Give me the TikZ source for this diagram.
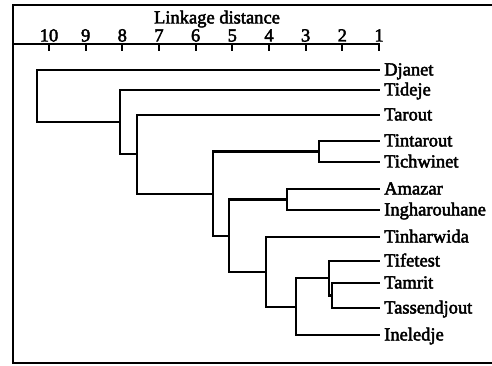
\documentclass[tikz,border=0pt]{standalone}
\usepackage{fontspec}
\setmainfont{Liberation Serif}
\newfontfamily\heavyserif{Liberation Serif}[FakeBold=2.5]
\begin{document}
\begin{tikzpicture}[x=1pt,y=-1pt,
  tree/.style={line width=2.2pt,line cap=rect},
  frame/.style={line width=2pt},
  leaf/.style={anchor=base west,inner sep=0pt,font=\heavyserif\fontsize{18.5}{20}\selectfont},
  num/.style={anchor=base,inner sep=0pt,font=\heavyserif\fontsize{18.5}{20}\selectfont},
  tickmark/.style={line width=2pt}]
\useasboundingbox (0,0) rectangle (492,366);
% frame
\coordinate (ftr) at (492,5);
\coordinate (ftl) at (13,5);
\coordinate (fbl) at (13,363);
\coordinate (fbr) at (492,363);
\draw[frame] (ftr) -- (ftl) -- (fbl) -- (fbr);
% axis
\coordinate (axL) at (13,44);
\coordinate (axR) at (380,44);
\draw[frame] (axL) -- (axR);
\node[num] (title) at (217,23.5) {Linkage distance};
\foreach \d in {1,...,10}{
  \coordinate (t\d) at ({379-(\d-1)*36.67},44);
  \coordinate (tb\d) at ({379-(\d-1)*36.67},51);
  \draw[tickmark] (t\d) -- (tb\d);
  \node[num] (n\d) at ({379-(\d-1)*36.67},41.5) {\d};
}
% leaves
\foreach \nm/\y in {Djanet/70,Tideje/90,Tarout/115,Tintarout/141,Tichwinet/162,Amazar/189,Ingharouhane/210,Tinharwida/237,Tifetest/261,Tamrit/283,Tassendjout/308,Ineledje/335}{
  \coordinate (l\nm) at (379,\y);
  \node[leaf] (\nm) at (384,\y+5.5) {\nm};
}
% joins
\coordinate (A) at (332,295.5);
\coordinate (B) at (329,278.25);
\coordinate (C) at (296,306.6);
\coordinate (D) at (266,271.8);
\coordinate (E) at (287,199.5);
\coordinate (F) at (229,235.7);
\coordinate (G) at (319,151.5);
\coordinate (H) at (213,193.6);
\coordinate (I) at (137,154.3);
\coordinate (J) at (120,122.1);
\coordinate (K) at (37,96);
\draw[tree] (lTamrit) -| (A) |- (lTassendjout);
\draw[tree] (lTifetest) -| (B) |- (A);
\draw[tree] (B) -| (C) |- (lIneledje);
\draw[tree] (lTinharwida) -| (D) |- (C);
\draw[tree] (lAmazar) -| (E) |- (lIngharouhane);
\draw[tree] (E) -| (F) |- (D);
\draw[tree] (lTintarout) -| (G) |- (lTichwinet);
\draw[tree] (G) -| (H) |- (F);
\draw[tree] (lTarout) -| (I) |- (H);
\draw[tree] (lTideje) -| (J) |- (I);
\draw[tree] (lDjanet) -| (K) |- (J);
\end{tikzpicture}
\end{document}
